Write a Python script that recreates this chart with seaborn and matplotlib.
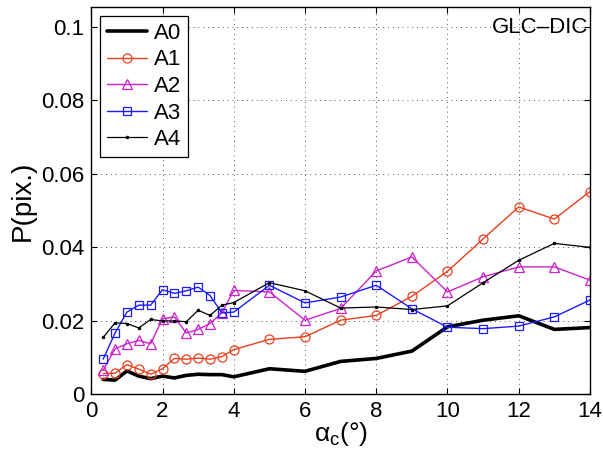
import numpy as np
import pandas as pd
import matplotlib
matplotlib.use("Agg")
import matplotlib.pyplot as plt
import seaborn as sns

alpha_c = [1/3, 2/3, 1, 4/3, 5/3, 2, 7/3, 8/3, 3, 10/3, 11/3, 4,
           5, 6, 7, 8, 9, 10, 11, 12, 13, 14]
A0 = [0.0041, 0.0039, 0.0064, 0.0050, 0.0043, 0.0050, 0.0045, 0.0052, 0.0055, 0.0054, 0.0054, 0.0048,
      0.0070, 0.0063, 0.0090, 0.0098, 0.0118, 0.0184, 0.0202, 0.0214, 0.0177, 0.0182]
A1 = [0.0057, 0.0058, 0.0081, 0.0069, 0.0055, 0.0070, 0.0098, 0.0096, 0.0099, 0.0096, 0.0103, 0.0122,
      0.0150, 0.0157, 0.0202, 0.0215, 0.0267, 0.0335, 0.0423, 0.0510, 0.0477, 0.0552]
A2 = [0.0066, 0.0124, 0.0138, 0.0147, 0.0138, 0.0206, 0.0211, 0.0167, 0.0177, 0.0193, 0.0222, 0.0283,
      0.0279, 0.0202, 0.0234, 0.0336, 0.0374, 0.0279, 0.0320, 0.0347, 0.0347, 0.0311]
A3 = [0.0096, 0.0167, 0.0224, 0.0243, 0.0243, 0.0285, 0.0275, 0.0282, 0.0292, 0.0269, 0.0222, 0.0224,
      0.0297, 0.0249, 0.0265, 0.0297, 0.0233, 0.0183, 0.0179, 0.0186, 0.0211, 0.0257]
A4 = [0.0155, 0.0195, 0.0193, 0.0181, 0.0204, 0.0200, 0.0200, 0.0198, 0.0229, 0.0215, 0.0243, 0.0250,
      0.0304, 0.0282, 0.0235, 0.0238, 0.0231, 0.0241, 0.0304, 0.0365, 0.0411, 0.0400]
series_names = ["A0", "A1", "A2", "A3", "A4"]
x_ticks = [0, 2, 4, 6, 8, 10, 12, 14]
y_ticks = [0, 0.02, 0.04, 0.06, 0.08, 0.1]
y_ticklabels = ["0", "0.02", "0.04", "0.06", "0.08", "0.1"]

sns.set_style("ticks")
plt.rcParams["font.family"] = ["Liberation Sans", "DejaVu Sans"]
plt.rcParams["text.color"] = "black"
plt.rcParams["axes.labelcolor"] = "black"
plt.rcParams["xtick.color"] = "black"
plt.rcParams["ytick.color"] = "black"

fig = plt.figure(figsize=(6.03, 4.55), dpi=100)
ax = fig.add_axes([0.1514, 0.133, 0.8270, 0.851])

styles = {
    "A0": dict(color="black", lw=2.6, marker=None),
    "A1": dict(color="#e8401c", lw=1.0, marker="o", ms=6.5),
    "A2": dict(color="#cc22cc", lw=1.0, marker="^", ms=6.5),
    "A3": dict(color="#1a1aff", lw=1.0, marker="s", ms=5.5),
    "A4": dict(color="black", lw=0.9, marker=".", ms=3.5),
}
data = {"A0": A0, "A1": A1, "A2": A2, "A3": A3, "A4": A4}
for name in series_names:
    st = styles[name]
    kw = dict(x=alpha_c, y=data[name], ax=ax, color=st["color"], linewidth=st["lw"], label=name)
    if st["marker"] is not None:
        if st["marker"] == ".":
            kw.update(marker=".", markersize=st["ms"], markerfacecolor=st["color"], markeredgecolor=st["color"])
        else:
            kw.update(marker=st["marker"], markersize=st["ms"], markerfacecolor="none",
                      markeredgecolor=st["color"], markeredgewidth=0.9)
    sns.lineplot(**kw)

ax.set_xlim(0, 14)
ax.set_ylim(0, 0.1053)
ax.set_xticks(x_ticks)
ax.set_yticks(y_ticks)
ax.set_yticklabels(y_ticklabels)
ax.tick_params(direction="in", top=True, right=True, labelsize=16, length=4, width=0.8, pad=5,
               colors="black")
ax.grid(True, linestyle=(0, (1, 4)), color="#555555", linewidth=0.7)
for sp in ax.spines.values():
    sp.set_linewidth(1.0)
    sp.set_color("black")

ax.set_xlabel(r"$\mathregular{\alpha_c}$(°)", fontsize=19, labelpad=-2, color="black")
ax.set_ylabel("P(pix.)", fontsize=20, labelpad=4, color="black")
ax.text(0.997, 0.975, "GLC–DIC", transform=ax.transAxes, ha="right", va="top", fontsize=16,
        color="black")

leg = ax.legend(loc="upper left", fontsize=16, frameon=True, fancybox=False, edgecolor="black",
                handlelength=1.8, borderpad=0.3, labelspacing=0.25, handletextpad=0.3,
                borderaxespad=0.4, labelcolor="black")
leg.get_frame().set_linewidth(0.9)
leg.get_frame().set_alpha(1)

fig.savefig("out.png", dpi=100)
